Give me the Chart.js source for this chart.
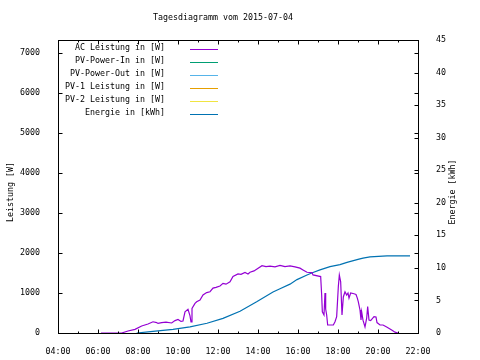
<!DOCTYPE html>
<html>
<head>
<meta charset="utf-8">
<script src="https://cdn.jsdelivr.net/npm/chart.js@4.4.1/dist/chart.umd.min.js"></script>
<style>
  body { margin: 0; background: #fff; }
  canvas { display: block; }
</style>
</head>
<body>
<canvas id="tages" width="480" height="360"></canvas>
<script>
// values
const acTimes = ["06:09", "07:11", "07:30", "07:51", "08:11", "08:30", "08:45", "08:56", "09:00", "09:11",
  "09:24", "09:41", "09:51", "10:00", "10:09", "10:15", "10:21", "10:30", "10:36", "10:39",
  "10:42", "10:51", "10:56", "11:06", "11:15", "11:26", "11:36", "11:45", "11:54", "12:06",
  "12:15", "12:24", "12:36", "12:45", "13:00", "13:09", "13:21", "13:30", "13:36", "13:48",
  "13:57", "14:12", "14:24", "14:36", "14:51", "15:06", "15:21", "15:36", "15:51", "16:06",
  "16:15", "16:27", "16:42", "16:45", "17:08", "17:11", "17:13", "17:18", "17:21", "17:23",
  "17:26", "17:29", "17:36", "17:46", "17:51", "17:56", "18:01", "18:04", "18:08", "18:12",
  "18:16", "18:21", "18:26", "18:30", "18:33", "18:38", "18:48", "18:54", "18:58", "19:01",
  "19:06", "19:09", "19:11", "19:15", "19:21", "19:26", "19:29", "19:33", "19:38", "19:48",
  "19:54", "19:57", "20:06", "20:15", "20:26", "20:41", "20:51", "21:00"];
const acWatts = [0, 0, 50, 90, 175, 225, 280, 260, 240, 260,
  270, 250, 310, 340, 290, 300, 530, 590, 430, 280,
  615, 740, 780, 825, 950, 1010, 1030, 1120, 1140, 1175,
  1240, 1220, 1280, 1410, 1475, 1465, 1510, 1475, 1517, 1550,
  1600, 1680, 1660, 1670, 1650, 1690, 1660, 1675, 1650, 1620,
  1575, 1517, 1510, 1450, 1410, 950, 530, 450, 1000, 600,
  450, 200, 200, 200, 280, 410, 1160, 1450, 1280, 450,
  900, 1030, 950, 1000, 870, 1000, 980, 960, 870, 780,
  575, 325, 530, 320, 150, 370, 660, 325, 310, 410,
  400, 260, 200, 200, 150, 75, 20, 0];

const energyTimes = ["07:56", "08:45", "09:45", "10:36", "11:27", "12:15", "13:06", "13:56", "14:45", "15:06",
  "15:36", "15:57", "16:27", "16:45", "17:06", "17:36", "18:06", "18:27", "19:00", "19:15",
  "19:36", "20:27", "21:36"];
const energyKWh = [0, 0.25, 0.55, 0.95, 1.5, 2.25, 3.35, 4.8, 6.3, 6.8,
  7.5, 8.2, 8.9, 9.3, 9.7, 10.2, 10.5, 10.85, 11.3, 11.5,
  11.7, 11.85, 11.85];

const powerTicks = [0, 1000, 2000, 3000, 4000, 5000, 6000, 7000];
const energyTicks = [0, 5, 10, 15, 20, 25, 30, 35, 40, 45];

const seriesLabels = ["AC Leistung in [W]", "PV-Power-In in [W]", "PV-Power-Out in [W]",
  "PV-1 Leistung in [W]", "PV-2 Leistung in [W]", "Energie in [kWh]"];
const seriesColors = ["#9400d3", "#009e73", "#56b4e9", "#e69f00", "#f0e442", "#0072b2"];

const titleText = "Tagesdiagramm vom 2015-07-04";
const yTitle = "Leistung [W]";
const y2Title = "Energie [kWh]";

const FONT = '"DejaVu Sans Mono", monospace';
const FSIZE = 8.3;

// "HH:MM" -> hours as number
const toHours = (s) => {
  const [h, m] = s.split(":").map(Number);
  return h + m / 60;
};
const pairs = (times, vals) => times.map((t, i) => ({ x: toHours(t), y: vals[i] }));

// gnuplot look: frame, inward ticks, title, axis titles, legend at the top left
const gnuplotDecor = {
  id: "gnuplotDecor",
  afterDatasetsDraw(chart) {
    const { ctx, chartArea: a, scales } = chart;
    const l = Math.round(a.left) + 0.5;
    const r = Math.round(a.right) + 0.5;
    const t = Math.round(a.top) + 0.5;
    const b = Math.round(a.bottom) + 0.5;
    ctx.save();
    ctx.strokeStyle = "#000";
    ctx.lineWidth = 1;
    ctx.strokeRect(l, t, r - l, b - t);
    ctx.beginPath();
    for (let h = scales.x.min; h <= scales.x.max; h++) {
      const px = Math.round(scales.x.getPixelForValue(h)) + 0.5;
      const len = h % 2 === 0 ? 4 : 2;
      ctx.moveTo(px, b); ctx.lineTo(px, b - len);
      ctx.moveTo(px, t); ctx.lineTo(px, t + len);
    }
    scales.y.ticks.forEach((tk) => {
      const py = Math.round(scales.y.getPixelForValue(tk.value)) + 0.5;
      ctx.moveTo(l, py); ctx.lineTo(l + 4, py);
      ctx.moveTo(r, py); ctx.lineTo(r - 4, py);
    });
    scales.y2.ticks.forEach((tk) => {
      const py = Math.round(scales.y2.getPixelForValue(tk.value)) + 0.5;
      ctx.moveTo(r, py); ctx.lineTo(r - 4, py);
    });
    ctx.stroke();

    ctx.fillStyle = "#000";
    ctx.font = FSIZE + "px " + FONT;
    ctx.textAlign = "center";
    ctx.textBaseline = "middle";
    ctx.fillText(titleText, 223, 18);

    ctx.save();
    ctx.translate(10.5, 192);
    ctx.rotate(-Math.PI / 2);
    ctx.fillText(yTitle, 0, 0);
    ctx.restore();
    ctx.save();
    ctx.translate(453, 192);
    ctx.rotate(-Math.PI / 2);
    ctx.fillText(y2Title, 0, 0);
    ctx.restore();

    // legend
    ctx.textAlign = "right";
    chart.data.datasets.forEach((ds, i) => {
      const y = 49 + 13 * i;
      ctx.fillStyle = "#000";
      ctx.fillText(ds.label, 165, y - 1);
      ctx.strokeStyle = ds.borderColor;
      ctx.beginPath();
      ctx.moveTo(190, y + 0.5);
      ctx.lineTo(218, y + 0.5);
      ctx.stroke();
    });
    ctx.restore();
  },
};

const lineDs = (i, data, axis) => ({
  label: seriesLabels[i],
  data: data,
  yAxisID: axis,
  borderColor: seriesColors[i],
  backgroundColor: seriesColors[i],
  borderWidth: 1.2,
  pointRadius: 0,
  tension: 0,
  fill: false,
});

const tickFont = { family: FONT, size: FSIZE };

const tages = new Chart(document.getElementById("tages").getContext("2d"), {
  type: "line",
  data: {
    datasets: [
      lineDs(0, pairs(acTimes, acWatts), "y"),
      lineDs(1, [], "y"),
      lineDs(2, [], "y"),
      lineDs(3, [], "y"),
      lineDs(4, [], "y"),
      lineDs(5, pairs(energyTimes, energyKWh), "y2"),
    ],
  },
  options: {
    responsive: false,
    animation: false,
    devicePixelRatio: 1,
    layout: { padding: { top: 40, left: 0, right: 0, bottom: 0 } },
    plugins: {
      legend: { display: false },
      tooltip: { enabled: false },
    },
    scales: {
      x: {
        type: "linear",
        min: 4,
        max: 22,
        grid: { display: false },
        border: { display: false },
        ticks: {
          stepSize: 2,
          padding: 6,
          color: "#000",
          font: tickFont,
          maxRotation: 0,
          callback: (v) => String(v).padStart(2, "0") + ":00",
        },
        afterFit: (s) => { s.height = 27; },
      },
      y: {
        position: "left",
        min: 0,
        max: 7317,
        grid: { display: false },
        border: { display: false },
        ticks: {
          autoSkip: false,
          padding: 10,
          color: "#000",
          font: tickFont,
          callback: (v) => String(v),
        },
        afterBuildTicks: (s) => { s.ticks = powerTicks.map((v) => ({ value: v })); },
        afterFit: (s) => { s.width = 58; },
      },
      y2: {
        position: "right",
        min: 0,
        max: 45,
        grid: { display: false },
        border: { display: false },
        ticks: {
          autoSkip: false,
          padding: 10,
          color: "#000",
          font: tickFont,
          callback: (v) => String(v),
        },
        afterBuildTicks: (s) => { s.ticks = energyTicks.map((v) => ({ value: v })); },
        afterFit: (s) => { s.width = 62; },
      },
    },
  },
  plugins: [gnuplotDecor],
});
</script>
</body>
</html>
